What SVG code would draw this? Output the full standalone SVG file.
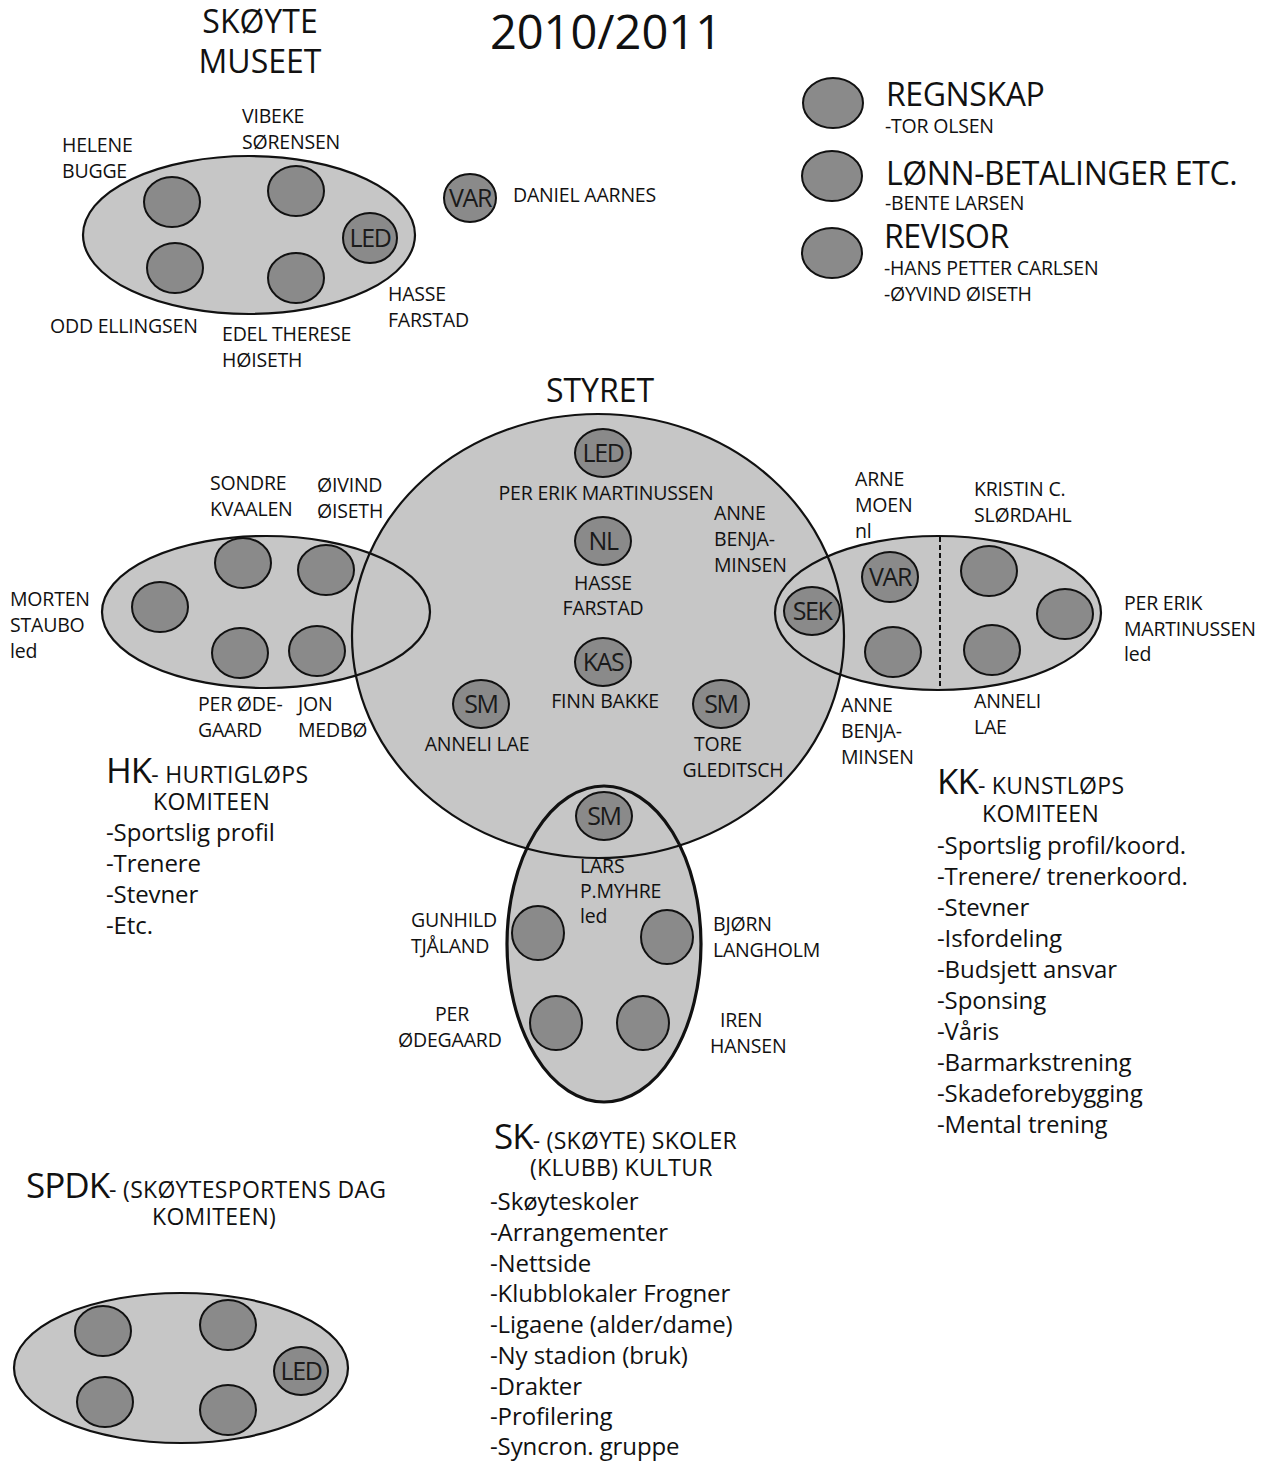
<svg xmlns="http://www.w3.org/2000/svg" width="1270" height="1463" viewBox="0 0 1270 1463">
<style>
text{font-family:"Open Sans","Noto Sans","DejaVu Sans",sans-serif;fill:#111;}
.n{font-size:19.5px;letter-spacing:-0.2px;}
.c{text-anchor:middle;}
.big{fill:#c6c6c6;stroke:none;}
.ol{fill:none;stroke:#111;stroke-width:2.2;}
.dot{fill:#8a8a8a;stroke:#111;stroke-width:2;}
.dl{font-size:25px;letter-spacing:-1.4px;text-anchor:middle;fill:#1a1a1a;}
.h1{font-size:32px;letter-spacing:0px;}
.hd{font-size:35px;letter-spacing:-1px;}
.hs{font-size:23px;letter-spacing:0.3px;}
.li{font-size:24px;letter-spacing:-0.1px;}
.lg{font-size:32px;letter-spacing:-0.4px;}
.ls{font-size:19.5px;letter-spacing:-0.2px;}
</style>

<g id="fills">
<ellipse class="big" cx="249" cy="235" rx="166" ry="79"/>
<ellipse class="big" cx="266" cy="612" rx="164" ry="76"/>
<ellipse class="big" cx="938" cy="613" rx="163" ry="77"/>
<ellipse class="big" cx="604" cy="944" rx="97" ry="158"/>
<ellipse class="big" cx="598" cy="636" rx="246" ry="222"/>
<ellipse class="big" cx="181" cy="1368" rx="167" ry="75"/>
</g>

<g id="title">
<text x="606" y="49" class="c" style="font-size:47px;letter-spacing:0px">2010/2011</text>
</g>

<g id="museet">
<text x="260" y="33" class="c h1">SKØYTE</text>
<text x="260" y="73" class="c h1">MUSEET</text>
<ellipse class="ol" cx="249" cy="235" rx="166" ry="79"/>
<ellipse class="dot" cx="172" cy="202" rx="28" ry="25"/>
<ellipse class="dot" cx="296" cy="191" rx="28" ry="25"/>
<ellipse class="dot" cx="370" cy="238" rx="27" ry="25"/>
<text x="370" y="247" class="dl">LED</text>
<ellipse class="dot" cx="175" cy="268" rx="28" ry="25"/>
<ellipse class="dot" cx="296" cy="278" rx="28" ry="25"/>
<text x="62" y="152" class="n">HELENE</text>
<text x="62" y="178" class="n">BUGGE</text>
<text x="242" y="123" class="n">VIBEKE</text>
<text x="242" y="149" class="n">SØRENSEN</text>
<text x="50" y="333" class="n">ODD ELLINGSEN</text>
<text x="222" y="341" class="n">EDEL THERESE</text>
<text x="222" y="367" class="n">HØISETH</text>
<text x="388" y="301" class="n">HASSE</text>
<text x="388" y="327" class="n">FARSTAD</text>
</g>

<g id="var-daniel">
<ellipse class="dot" cx="470" cy="198" rx="26" ry="24"/>
<text x="470" y="207" class="dl">VAR</text>
<text x="513" y="202" class="n">DANIEL AARNES</text>
</g>

<g id="regnskap">
<ellipse class="dot" cx="833" cy="103" rx="30" ry="25"/>
<text x="886" y="106" class="lg">REGNSKAP</text>
<text x="885" y="133" class="ls">-TOR OLSEN</text>
</g>
<g id="lonn">
<ellipse class="dot" cx="832" cy="176" rx="30" ry="25"/>
<text x="886" y="185" class="lg">LØNN-BETALINGER ETC.</text>
<text x="885" y="210" class="ls">-BENTE LARSEN</text>
</g>
<g id="revisor">
<ellipse class="dot" cx="832" cy="253" rx="30" ry="25"/>
<text x="884" y="248" class="lg">REVISOR</text>
<text x="884" y="275" class="ls">-HANS PETTER CARLSEN</text>
<text x="884" y="301" class="ls">-ØYVIND ØISETH</text>
</g>

<g id="outlines">
<ellipse class="ol" cx="266" cy="612" rx="164" ry="76"/>
<ellipse class="ol" cx="938" cy="613" rx="163" ry="77"/>
<ellipse class="ol" cx="598" cy="636" rx="246" ry="222"/>
<ellipse class="ol" cx="604" cy="944" rx="97" ry="158" style="stroke-width:3.2"/>
<line x1="940" y1="537" x2="940" y2="690" stroke="#111" stroke-width="2" stroke-dasharray="5,3"/>
</g>

<g id="styret">
<text x="600" y="402" class="c h1">STYRET</text>
<ellipse class="dot" cx="603" cy="453" rx="28" ry="24"/>
<text x="603" y="462" class="dl">LED</text>
<text x="606" y="500" class="n c">PER ERIK MARTINUSSEN</text>
<ellipse class="dot" cx="603" cy="541" rx="28" ry="24"/>
<text x="603" y="550" class="dl">NL</text>
<text x="603" y="590" class="n c">HASSE</text>
<text x="603" y="615" class="n c">FARSTAD</text>
<ellipse class="dot" cx="603" cy="662" rx="28" ry="24"/>
<text x="603" y="671" class="dl">KAS</text>
<text x="605" y="708" class="n c">FINN BAKKE</text>
<ellipse class="dot" cx="481" cy="704" rx="28" ry="24"/>
<text x="481" y="713" class="dl">SM</text>
<text x="477" y="751" class="n c">ANNELI LAE</text>
<ellipse class="dot" cx="721" cy="704" rx="28" ry="24"/>
<text x="721" y="713" class="dl">SM</text>
<text x="718" y="751" class="n c">TORE</text>
<text x="733" y="777" class="n c">GLEDITSCH</text>
<text x="714" y="520" class="n">ANNE</text>
<text x="714" y="546" class="n">BENJA-</text>
<text x="714" y="572" class="n">MINSEN</text>
<ellipse class="dot" cx="812" cy="611" rx="28" ry="24"/>
<text x="812" y="620" class="dl">SEK</text>
<ellipse class="dot" cx="604" cy="816" rx="28" ry="24"/>
<text x="604" y="825" class="dl">SM</text>
</g>

<g id="hk">
<ellipse class="dot" cx="160" cy="607" rx="28" ry="25"/>
<ellipse class="dot" cx="243" cy="563" rx="28" ry="25"/>
<ellipse class="dot" cx="326" cy="570" rx="28" ry="25"/>
<ellipse class="dot" cx="240" cy="653" rx="28" ry="25"/>
<ellipse class="dot" cx="317" cy="651" rx="28" ry="25"/>
<text x="210" y="490" class="n">SONDRE</text>
<text x="210" y="516" class="n">KVAALEN</text>
<text x="317" y="492" class="n">ØIVIND</text>
<text x="317" y="518" class="n">ØISETH</text>
<text x="10" y="606" class="n">MORTEN</text>
<text x="10" y="632" class="n">STAUBO</text>
<text x="10" y="658" class="n">led</text>
<text x="198" y="711" class="n">PER ØDE-</text>
<text x="198" y="737" class="n">GAARD</text>
<text x="298" y="711" class="n">JON</text>
<text x="298" y="737" class="n">MEDBØ</text>
<text x="106" y="783"><tspan class="hd">HK</tspan><tspan class="hs">- HURTIGLØPS</tspan></text>
<text x="153" y="810" class="hs">KOMITEEN</text>
<text x="106" y="841" class="li">-Sportslig profil</text>
<text x="106" y="872" class="li">-Trenere</text>
<text x="106" y="903" class="li">-Stevner</text>
<text x="106" y="934" class="li">-Etc.</text>
</g>

<g id="kk">
<ellipse class="dot" cx="890" cy="577" rx="28" ry="25"/>
<text x="890" y="586" class="dl">VAR</text>
<ellipse class="dot" cx="893" cy="652" rx="28" ry="25"/>
<ellipse class="dot" cx="989" cy="571" rx="28" ry="25"/>
<ellipse class="dot" cx="1065" cy="614" rx="28" ry="25"/>
<ellipse class="dot" cx="992" cy="650" rx="28" ry="25"/>
<text x="855" y="486" class="n">ARNE</text>
<text x="855" y="512" class="n">MOEN</text>
<text x="855" y="538" class="n">nl</text>
<text x="974" y="496" class="n">KRISTIN C.</text>
<text x="974" y="522" class="n">SLØRDAHL</text>
<text x="1124" y="610" class="n">PER ERIK</text>
<text x="1124" y="636" class="n">MARTINUSSEN</text>
<text x="1124" y="661" class="n">led</text>
<text x="841" y="712" class="n">ANNE</text>
<text x="841" y="738" class="n">BENJA-</text>
<text x="841" y="764" class="n">MINSEN</text>
<text x="974" y="708" class="n">ANNELI</text>
<text x="974" y="734" class="n">LAE</text>
<text x="937" y="794"><tspan class="hd">KK</tspan><tspan class="hs">- KUNSTLØPS</tspan></text>
<text x="982" y="822" class="hs">KOMITEEN</text>
<text x="937" y="854" class="li">-Sportslig profil/koord.</text>
<text x="937" y="885" class="li">-Trenere/ trenerkoord.</text>
<text x="937" y="916" class="li">-Stevner</text>
<text x="937" y="947" class="li">-Isfordeling</text>
<text x="937" y="978" class="li">-Budsjett ansvar</text>
<text x="937" y="1009" class="li">-Sponsing</text>
<text x="937" y="1040" class="li">-Våris</text>
<text x="937" y="1071" class="li">-Barmarkstrening</text>
<text x="937" y="1102" class="li">-Skadeforebygging</text>
<text x="937" y="1133" class="li">-Mental trening</text>
</g>

<g id="sk">
<ellipse class="dot" cx="538" cy="933" rx="26" ry="27"/>
<ellipse class="dot" cx="667" cy="937" rx="26" ry="27"/>
<ellipse class="dot" cx="556" cy="1023" rx="26" ry="27"/>
<ellipse class="dot" cx="643" cy="1023" rx="26" ry="27"/>
<text x="580" y="873" class="n">LARS</text>
<text x="580" y="898" class="n">P.MYHRE</text>
<text x="580" y="923" class="n">led</text>
<text x="411" y="927" class="n">GUNHILD</text>
<text x="411" y="953" class="n">TJÅLAND</text>
<text x="713" y="931" class="n">BJØRN</text>
<text x="713" y="957" class="n">LANGHOLM</text>
<text x="452" y="1021" class="n c">PER</text>
<text x="398" y="1047" class="n">ØDEGAARD</text>
<text x="720" y="1027" class="n">IREN</text>
<text x="710" y="1053" class="n">HANSEN</text>
<text x="494" y="1149"><tspan class="hd">SK</tspan><tspan class="hs">- (SKØYTE) SKOLER</tspan></text>
<text x="530" y="1176" class="hs">(KLUBB) KULTUR</text>
<text x="490" y="1210" class="li">-Skøyteskoler</text>
<text x="490" y="1241" class="li">-Arrangementer</text>
<text x="490" y="1272" class="li">-Nettside</text>
<text x="490" y="1302" class="li">-Klubblokaler Frogner</text>
<text x="490" y="1333" class="li">-Ligaene (alder/dame)</text>
<text x="490" y="1364" class="li">-Ny stadion (bruk)</text>
<text x="490" y="1395" class="li">-Drakter</text>
<text x="490" y="1425" class="li">-Profilering</text>
<text x="490" y="1455" class="li">-Syncron. gruppe</text>
</g>

<g id="spdk">
<text x="26" y="1198"><tspan class="hd">SPDK</tspan><tspan class="hs">- (SKØYTESPORTENS DAG</tspan></text>
<text x="152" y="1225" class="hs">KOMITEEN)</text>
<ellipse class="ol" cx="181" cy="1368" rx="167" ry="75"/>
<ellipse class="dot" cx="103" cy="1331" rx="28" ry="25"/>
<ellipse class="dot" cx="228" cy="1325" rx="28" ry="25"/>
<ellipse class="dot" cx="301" cy="1371" rx="27" ry="24"/>
<text x="301" y="1380" class="dl">LED</text>
<ellipse class="dot" cx="105" cy="1402" rx="28" ry="25"/>
<ellipse class="dot" cx="228" cy="1410" rx="28" ry="25"/>
</g>
</svg>
